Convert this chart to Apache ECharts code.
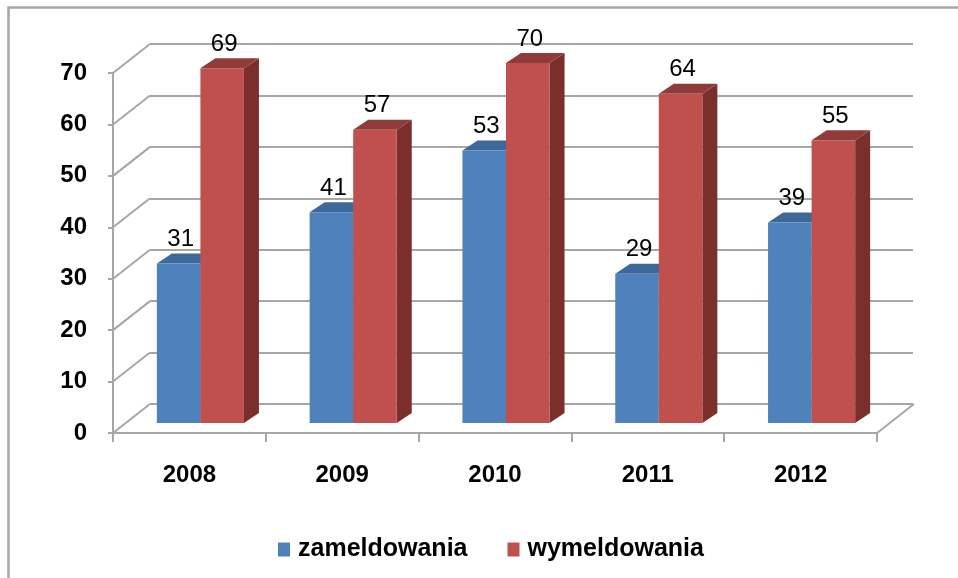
<!DOCTYPE html>
<html>
<head>
<meta charset="UTF-8">
<title>zameldowania / wymeldowania</title>
<script src="https://cdn.jsdelivr.net/npm/echarts@6/dist/echarts.min.js"></script>
<style>
html, body { margin: 0; padding: 0; background: #fff; }
#chart { width: 958px; height: 578px; }
</style>
</head>
<body>
<div id="chart"></div>
<script>
var years = ['2008', '2009', '2010', '2011', '2012'];
var zameldowania = [31, 41, 53, 29, 39];
var wymeldowania = [69, 57, 70, 64, 55];
var yTicks = [0, 10, 20, 30, 40, 50, 60, 70];

var GRID_LINE = '#A6A6A6';
var FONT = '"Liberation Sans", Arial, sans-serif';
var WALL_DEPTH = [37, -29];   // przesuniecie tylnej sciany
var BAR_DEPTH = [15, -10];    // glebokosc slupka

var chart = echarts.init(document.getElementById('chart'));

// slupek 3D: przod, gora, bok + etykieta
function barItem(leftSide, front, top, sideColor) {
	return function(params, api) {
		var i = api.value(0), v = api.value(1);
		var p = api.coord([i, v]);
		var b = api.coord([i, 0]);
		var w = api.size([1, 0])[0] * 0.285;
		var x0 = leftSide ? p[0] - w : p[0];
		var x1 = x0 + w;
		var dx = BAR_DEPTH[0], dy = BAR_DEPTH[1];
		return {
			type: 'group',
			children: [
				{ type: 'polygon', shape: { points: [[x1, p[1]], [x1 + dx, p[1] + dy], [x1 + dx, b[1] + dy], [x1, b[1]]] }, style: { fill: sideColor } },
				{ type: 'polygon', shape: { points: [[x0, p[1]], [x0 + dx, p[1] + dy], [x1 + dx, p[1] + dy], [x1, p[1]]] }, style: { fill: top } },
				{ type: 'rect', shape: { x: x0, y: p[1], width: w, height: b[1] - p[1] }, style: { fill: front } },
				{ type: 'text', x: (x0 + x1) / 2 + 2, y: p[1] + dy - 2, style: { text: String(v), fill: '#000', fontSize: 24, fontFamily: FONT, align: 'center', verticalAlign: 'bottom' } }
			]
		};
	};
}

// ukosne linie bocznej sciany
function wallItem(params, api) {
	var p = api.coord([0, api.value(1)]);
	var x = p[0] - api.size([1, 0])[0] / 2;
	return {
		type: 'line',
		shape: { x1: x, y1: p[1], x2: x + WALL_DEPTH[0], y2: p[1] + WALL_DEPTH[1] },
		style: { stroke: GRID_LINE, lineWidth: 2 }
	};
}

// prawa krawedz podlogi
function floorItem(params, api) {
	var p = api.coord([api.value(0), 0]);
	var x = p[0] + api.size([1, 0])[0] / 2;
	return {
		type: 'line',
		shape: { x1: x, y1: p[1], x2: x + WALL_DEPTH[0], y2: p[1] + WALL_DEPTH[1] },
		style: { stroke: GRID_LINE, lineWidth: 2 }
	};
}

var wallData = yTicks.map(function(t) { return [0, t]; });

chart.setOption({
	animation: false,
	graphic: [{
		type: 'rect',
		shape: { x: 8.5, y: 7.5, width: 1200, height: 1200 },
		style: { fill: 'none', stroke: '#A6A6A6', lineWidth: 2.5 },
		z: -10
	}],
	legend: {
		left: 273,
		top: 532,
		itemWidth: 12,
		itemHeight: 14,
		itemGap: 40,
		icon: 'rect',
		textStyle: { fontSize: 25, fontWeight: 'bold', fontFamily: FONT, color: '#000', padding: [0, 0, 0, 3] },
		data: ['zameldowania', 'wymeldowania']
	},
	grid: [
		{ left: 113, top: 73, width: 764, height: 360 },
		{ left: 150, top: 44, width: 763, height: 360 },
		{ left: 124, top: 63, width: 764, height: 360 }
	],
	xAxis: [
		{
			gridIndex: 0, type: 'category', data: years, boundaryGap: true,
			axisLine: { lineStyle: { color: GRID_LINE, width: 2 } },
			axisTick: { show: true, length: 9, lineStyle: { color: GRID_LINE, width: 2 } },
			axisLabel: { margin: 30, fontSize: 24, fontWeight: 'bold', fontFamily: FONT, color: '#000' }
		},
		{ gridIndex: 1, type: 'category', data: years, show: false },
		{ gridIndex: 2, type: 'category', data: years, show: false }
	],
	yAxis: [
		{
			gridIndex: 0, type: 'value', min: 0, max: 70, interval: 10,
			axisLine: { show: true, lineStyle: { color: GRID_LINE, width: 2 } },
			axisTick: { show: true, length: 5, lineStyle: { color: GRID_LINE, width: 2 } },
			axisLabel: { margin: 26, fontSize: 24, fontWeight: 'bold', fontFamily: FONT, color: '#000' },
			splitLine: { show: false }
		},
		{
			gridIndex: 1, type: 'value', min: 0, max: 70, interval: 10,
			axisLine: { show: false }, axisTick: { show: false }, axisLabel: { show: false },
			splitLine: { show: true, lineStyle: { color: GRID_LINE, width: 2 } }
		},
		{
			gridIndex: 2, type: 'value', min: 0, max: 70, interval: 10, show: false,
			splitLine: { show: false }
		}
	],
	series: [
		{ type: 'custom', xAxisIndex: 0, yAxisIndex: 0, renderItem: wallItem, data: wallData, silent: true, z: 1 },
		{ type: 'custom', xAxisIndex: 0, yAxisIndex: 0, renderItem: floorItem, data: [[years.length - 1, 0]], silent: true, z: 1 },
		{
			name: 'zameldowania', type: 'custom', xAxisIndex: 2, yAxisIndex: 2, z: 3,
			itemStyle: { color: '#4F81BD' },
			renderItem: barItem(true, '#4F81BD', '#3D6899', '#385D8A'),
			data: zameldowania.map(function(v, i) { return [i, v]; })
		},
		{
			name: 'wymeldowania', type: 'custom', xAxisIndex: 2, yAxisIndex: 2, z: 3,
			itemStyle: { color: '#C0504D' },
			renderItem: barItem(false, '#C0504D', '#8F3B39', '#7A2F2D'),
			data: wymeldowania.map(function(v, i) { return [i, v]; })
		}
	]
});
</script>
</body>
</html>
